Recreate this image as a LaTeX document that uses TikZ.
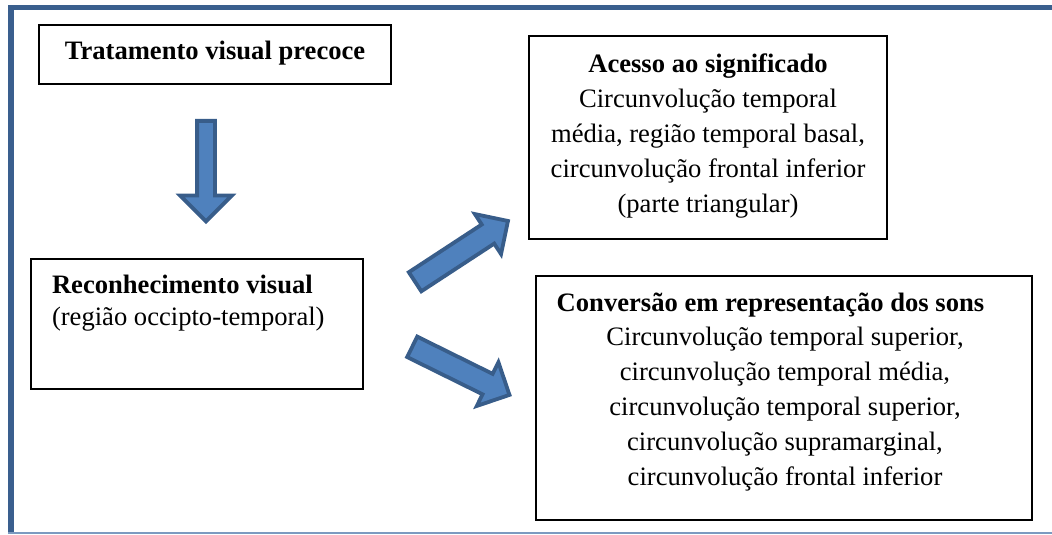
\documentclass[tikz,border=0pt]{standalone}
\usepackage{fontspec}
\setmainfont{Liberation Serif}
\usetikzlibrary{shapes.arrows}
\definecolor{framecol}{HTML}{3A5F8E}
\definecolor{framelight}{HTML}{7C9AC0}
\definecolor{arrfill}{HTML}{4F81BD}
\definecolor{arrdraw}{HTML}{385D8A}
\begin{document}
\begin{tikzpicture}[x=1pt,y=1pt,
  box/.style={draw=black, line width=1.7pt, inner sep=0pt, outer sep=0pt},
  txt/.style={inner sep=0pt, outer sep=0pt, font=\fontsize{26.6}{35}\selectfont},
  blockarrow/.style={shape=single arrow, draw=arrdraw, fill=arrfill, line width=3.8pt,
    inner xsep=0pt, minimum width=0pt, single arrow tip angle=90, anchor=tail}]
\useasboundingbox (0,0) rectangle (1052,535);
% page frame
\fill[framecol] (8,525) rectangle (1052,530);
\fill[framecol] (8,2) rectangle (14,530);
\draw[framelight, line width=1.5pt] (8,2) -- (1052,2);
% boxes
\node[box, minimum width=352pt, minimum height=59pt] (b1) at (215,480.5) {};
\node[box, minimum width=332pt, minimum height=130pt] (b2) at (197,211) {};
\node[box, minimum width=358pt, minimum height=203pt] (b3) at (708,397.5) {};
\node[box, minimum width=496pt, minimum height=244pt] (b4) at (784,137) {};
% texts
\node[txt, anchor=base] (t1) at (215,475) {\textbf{Tratamento visual precoce}};
\node[txt, anchor=base west] (t2) at (52,241) {\fontsize{26.6}{32}\selectfont\begin{tabular}[t]{@{}l@{}}\textbf{Reconhecimento visual}\\(região occipto-temporal)\end{tabular}};
\node[txt, anchor=base] (t3) at (708,462) {\begin{tabular}[t]{@{}c@{}}\textbf{Acesso ao significado}\\Circunvolução temporal\\média, região temporal basal,\\circunvolução frontal inferior\\(parte triangular)\end{tabular}};
\node[txt, anchor=base west] (t4) at (556.7,223.3) {\textbf{Conversão em representação dos sons}};
\node[txt, anchor=base] (t5) at (785,189) {\begin{tabular}[t]{@{}c@{}}Circunvolução temporal superior,\\circunvolução temporal média,\\circunvolução temporal superior,\\circunvolução supramarginal,\\circunvolução frontal inferior\end{tabular}};
% block arrows
\node[blockarrow, minimum height=100.5pt, inner ysep=7pt, single arrow head extend=17pt, rotate=-90] (a1) at (206,416) {};
\node[blockarrow, minimum height=111pt, inner ysep=9.5pt, single arrow head extend=12.5pt, rotate=33.2] (a2) at (413.5,252.2) {};
\node[blockarrow, minimum height=108.5pt, inner ysep=9.5pt, single arrow head extend=13pt, rotate=-26.3] (a3) at (410.5,189) {};
\end{tikzpicture}
\end{document}
